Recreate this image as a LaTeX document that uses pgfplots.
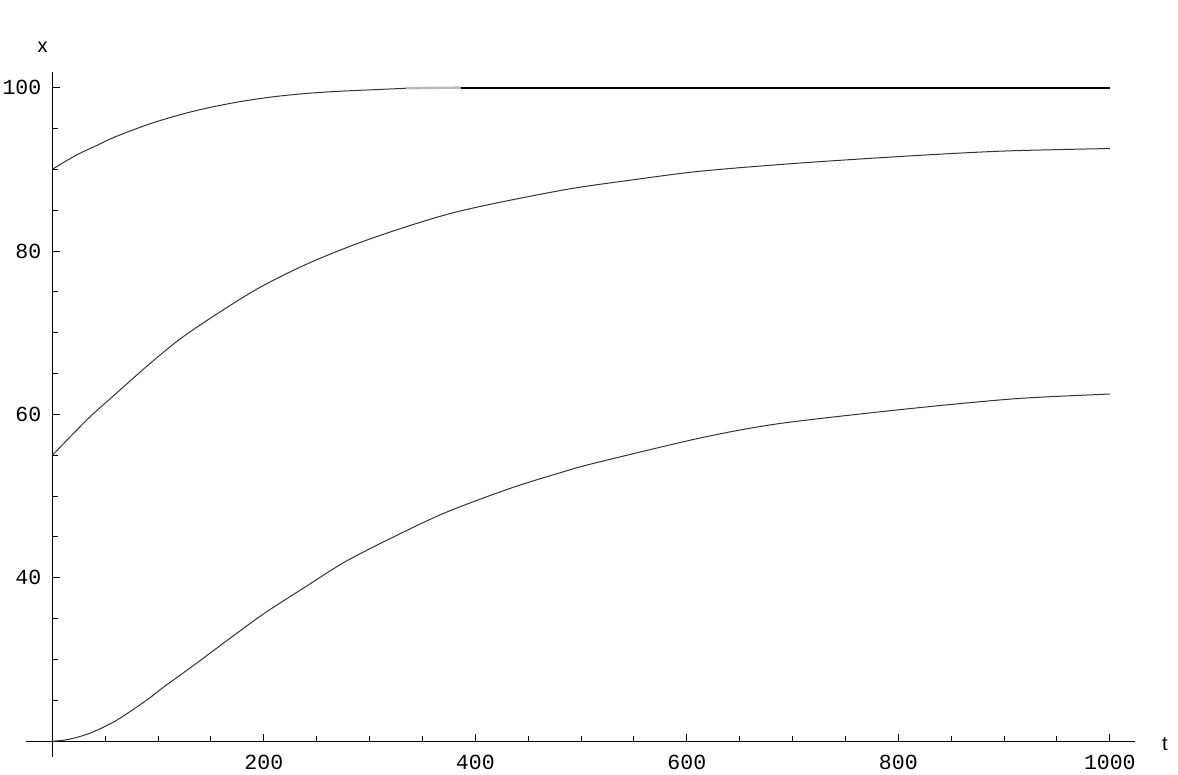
\documentclass[border=0pt]{standalone}
\usepackage{fontspec}
\setmainfont{Liberation Sans}
\setmonofont{Liberation Mono}
\usepackage{pgfplots}
\pgfplotsset{compat=1.18}
\begin{document}
\begin{tikzpicture}
\begin{axis}[
  scale only axis,
  width=541.45pt, height=334.56pt,
  xmin=0, xmax=1024, ymin=20, ymax=101.9,
  axis lines=left,
  axis line style={-, line width=0.6pt, black},
  x axis line style={shorten <=-13.2pt},
  y axis line style={shorten <=-7.8pt},
  tick align=inside,
  major tick length=3.6pt, minor tick length=2.6pt,
  every tick/.style={line width=0.5pt, black},
  xtick={200,400,600,800,1000}, xticklabels={200,400,600,800,1000},
  minor xtick={50,100,150,250,300,350,450,500,550,650,700,750,850,900,950},
  ytick={40,60,80,100}, yticklabels={40,60,80,100},
  minor ytick={25,30,35,45,50,55,65,70,75,85,90,95},
  ticklabel style={font=\fontsize{10.75}{12}\selectfont\ttfamily},
  xticklabel style={yshift=-3.5pt},
  yticklabel style={xshift=-2pt},
  clip=false,
  xlabel={t}, ylabel={x},
  label style={font=\fontsize{10}{11}\selectfont},
  xlabel style={at={(axis description cs:1.0275,-0.004)}, anchor=center},
  ylabel style={at={(axis description cs:-0.0089,1.037)}, anchor=center, rotate=-90},
]
% top curve
\addplot[black!80, line width=0.5pt, smooth] coordinates {
(0,90) (10,90.8) (25,91.9) (40,92.8) (58,93.9) (80,95.0) (100,95.9) (127,96.9)
(150,97.6) (178,98.3) (210,98.9) (241,99.3) (270,99.55) (304,99.75) (335,99.92)
(360,99.98) (386,100)};
\addplot[gray!55, line width=1.2pt] coordinates {(334,99.92) (360,99.98) (386,100)};
\addplot[black, line width=1.1pt] coordinates {(386,100) (1000,100)};
% middle curve
\addplot[black!80, line width=0.5pt, smooth] coordinates {
(0,55) (34,59.5) (58,62.3) (93,66.3) (122,69.35) (158,72.5) (197,75.6) (244,78.6)
(303,81.6) (381,84.75) (480,87.4) (548,88.7) (615,89.8) (710,90.8) (818,91.7)
(902,92.25) (1000,92.55)};
% bottom curve
\addplot[black!80, line width=0.5pt, smooth] coordinates {
(0,20) (12,20.15) (24,20.5) (36,21.0) (48,21.7) (60,22.5) (72,23.5) (90,25.1)
(105,26.6) (137,29.6) (168,32.6) (201,35.7) (237,38.7) (276,41.9) (321,44.9)
(372,48.0) (434,51.0) (480,52.85) (510,53.95) (612,57.1) (683,58.8) (774,60.2)
(852,61.25) (919,62.0) (1000,62.5)};
\coordinate (BL) at (axis cs:-49.46,15.88);
\coordinate (TR) at (axis cs:1064.5,110.73);
\end{axis}
\pgfresetboundingbox
\useasboundingbox (BL) rectangle (TR);
\end{tikzpicture}
\end{document}
